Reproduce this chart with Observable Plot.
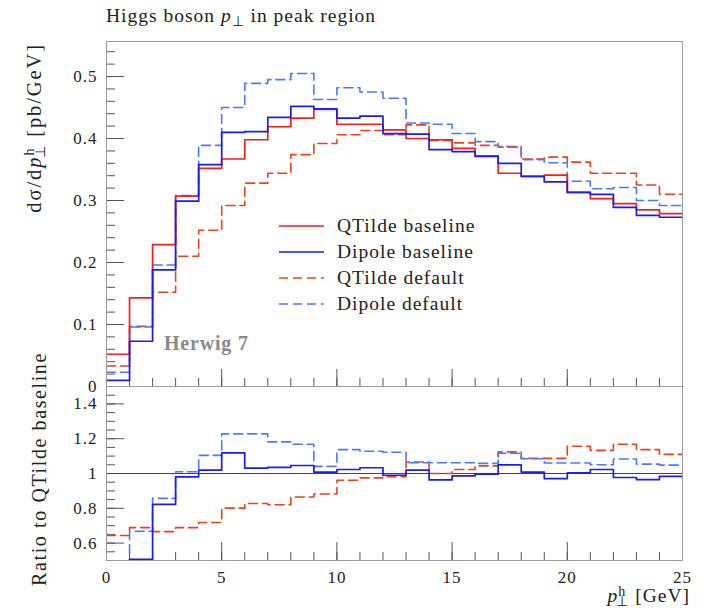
<!DOCTYPE html>
<html><head><meta charset="utf-8">
<script src="https://cdn.jsdelivr.net/npm/d3@7"></script>
<script src="https://cdn.jsdelivr.net/npm/@observablehq/plot@0.6"></script>
<style>
body{margin:0;background:#fff;}
#wrap{position:relative;width:711px;height:613px;}
#wrap > svg{position:absolute;left:0;}
</style></head><body><div id="wrap"></div>
<script>
// ---- data (bin edges in GeV, 1 GeV bins) ----
const binEdges = [0,1,2,3,4,5,6,7,8,9,10,11,12,13,14,15,16,17,18,19,20,21,22,23,24,25];
const qtildeBaseline = [0.052,0.143,0.229,0.307,0.352,0.367,0.398,0.419,0.433,0.447,0.423,0.423,0.414,0.400,0.398,0.384,0.372,0.344,0.339,0.341,0.313,0.303,0.295,0.285,0.279];
const dipoleBaseline = [0.010,0.073,0.188,0.299,0.358,0.410,0.411,0.434,0.452,0.448,0.433,0.436,0.408,0.407,0.382,0.379,0.371,0.360,0.339,0.330,0.313,0.310,0.289,0.276,0.273];
const qtildeDefault  = [0.033,0.097,0.152,0.210,0.252,0.292,0.328,0.344,0.374,0.392,0.406,0.413,0.406,0.422,0.397,0.393,0.389,0.387,0.367,0.370,0.362,0.344,0.344,0.325,0.310];
const dipoleDefault  = [0.023,0.096,0.196,0.308,0.389,0.450,0.489,0.495,0.505,0.463,0.482,0.475,0.465,0.425,0.423,0.408,0.395,0.386,0.366,0.361,0.331,0.319,0.321,0.300,0.292];
// ratios to QTilde baseline
const ratioDipoleBaseline = [0.19,0.507,0.822,0.981,1.019,1.118,1.031,1.035,1.046,1.008,1.023,1.033,0.990,1.019,0.963,0.986,0.996,1.050,1.008,0.971,1.004,1.023,0.977,0.965,0.983];
const ratioQtildeDefault  = [0.644,0.689,0.666,0.689,0.718,0.801,0.828,0.820,0.865,0.882,0.961,0.975,0.981,1.066,1.000,1.023,1.044,1.124,1.087,1.087,1.157,1.133,1.168,1.137,1.110];
const ratioDipoleDefault  = [0.43,0.668,0.857,1.010,1.104,1.228,1.228,1.182,1.168,1.041,1.137,1.128,1.122,1.062,1.062,1.062,1.058,1.116,1.085,1.060,1.060,1.050,1.083,1.054,1.048];
// ticks
const xTickLabels = [0,5,10,15,20,25];
const mainYTickLabels = [0,0.1,0.2,0.3,0.4,0.5];
const ratioYTickLabels = [0.6,0.8,1,1.2,1.4];
const seriesNames = ["QTilde baseline","Dipole baseline","QTilde default","Dipole default"];

const COL = {qb:"#ff1a1a", db:"#1a1aff", qd:"#f04020", dd:"#4a78ff"};
const DASH = "9,5";
const FONT = "'Liberation Serif', serif";
const TICK = "#555";

function steps(vals){ return binEdges.map((e,i)=>({x:e, y: vals[Math.min(i, vals.length-1)]})); }

const W = 711, ML = 106, MR = 29;
const frameW = W - ML - MR;
const minorX = d3.range(0, 25.001, 1);
const majorX = xTickLabels;

// ---- main panel ----
const mainH = 400, mainMT = 41, mainMB = 14, mainFH = mainH - mainMT - mainMB;
const main = Plot.plot({
  width: W, height: mainH, marginLeft: ML, marginRight: MR, marginTop: mainMT, marginBottom: mainMB,
  style: {background: "transparent", fontFamily: FONT, fontSize: "17px", color: "#222", letterSpacing: "1px"},
  x: {domain: [0, 25], axis: null},
  y: {domain: [0, 0.5565], axis: null},
  marks: [
    Plot.tickY(d3.range(0, 0.55, 0.02), {y: d=>d, insetRight: frameW - 9, stroke: TICK}),
    Plot.tickY(mainYTickLabels, {y: d=>d, insetRight: frameW - 18, stroke: TICK}),
    Plot.tickX(minorX, {x: d=>d, insetTop: mainFH - 8, stroke: TICK}),
    Plot.tickX(majorX, {x: d=>d, insetTop: mainFH - 17, stroke: TICK}),
    Plot.axisY(mainYTickLabels, {tickSize: 0, tickPadding: 9, label: null, tickFormat: d => d === 0 ? "0" : d.toFixed(1), fontSize: 17, fill: "#222"}),
    Plot.lineY(steps(qtildeDefault), {x:"x", y:"y", curve:"step-after", stroke: COL.qd, strokeWidth: 1.6, strokeDasharray: DASH}),
    Plot.lineY(steps(dipoleDefault), {x:"x", y:"y", curve:"step-after", stroke: COL.dd, strokeWidth: 1.6, strokeDasharray: DASH}),
    Plot.lineY(steps(qtildeBaseline), {x:"x", y:"y", curve:"step-after", stroke: COL.qb, strokeWidth: 1.7}),
    Plot.lineY(steps(dipoleBaseline), {x:"x", y:"y", curve:"step-after", stroke: COL.db, strokeWidth: 1.7}),
    Plot.frame({stroke: "#9a9a9a"})
  ]
});
main.style.top = "0px";

// ---- ratio panel ----
const rH = 233, rMT = 6, rMB = 53, rFH = rH - rMT - rMB;
const ratio = Plot.plot({
  width: W, height: rH, marginLeft: ML, marginRight: MR, marginTop: rMT, marginBottom: rMB,
  style: {background: "transparent", fontFamily: FONT, fontSize: "17px", color: "#222", letterSpacing: "1px"},
  x: {domain: [0, 25], axis: null},
  y: {domain: [0.5, 1.5], axis: null},
  marks: [
    Plot.tickY(d3.range(0.5, 1.5, 0.05), {y: d=>d, insetRight: frameW - 9, stroke: TICK}),
    Plot.tickY(ratioYTickLabels, {y: d=>d, insetRight: frameW - 18, stroke: TICK}),
    Plot.tickX(minorX, {x: d=>d, insetTop: rFH - 8, stroke: TICK}),
    Plot.tickX(majorX, {x: d=>d, insetTop: rFH - 18, stroke: TICK}),
    Plot.axisY(ratioYTickLabels, {tickSize: 0, tickPadding: 9, label: null, tickFormat: d => String(d), fontSize: 17, fill: "#222"}),
    Plot.axisX(xTickLabels, {tickSize: 0, tickPadding: 10, label: null, tickFormat: d => String(d), fontSize: 17, fill: "#222"}),
    Plot.ruleY([1], {stroke: "#444", strokeWidth: 1}),
    Plot.lineY(steps(ratioQtildeDefault), {x:"x", y:"y", curve:"step-after", stroke: COL.qd, strokeWidth: 1.6, strokeDasharray: DASH, clip: true}),
    Plot.lineY(steps(ratioDipoleDefault), {x:"x", y:"y", curve:"step-after", stroke: COL.dd, strokeWidth: 1.6, strokeDasharray: DASH, clip: true}),
    Plot.lineY(steps(ratioDipoleBaseline), {x:"x", y:"y", curve:"step-after", stroke: COL.db, strokeWidth: 1.7, clip: true}),
    Plot.frame({stroke: "#9a9a9a"})
  ]
});
ratio.style.top = "380px";

const wrap = document.getElementById("wrap");
wrap.appendChild(main);
wrap.appendChild(ratio);

// ---- overlay text: title, axis labels, legend, logo ----
const ov = d3.create("svg").attr("width", W).attr("height", 613)
  .style("position","absolute").style("top","0px").style("left","0px")
  .style("font-family", FONT).style("fill", "#222");

const title = ov.append("text").attr("x", 106).attr("y", 22).attr("font-size", 19.5).attr("letter-spacing", 1);
title.append("tspan").text("Higgs boson ");
title.append("tspan").attr("font-style","italic").text("p");
title.append("tspan").attr("font-size", 14).attr("dy", 4).text("⊥");
title.append("tspan").attr("dy", -4).text(" in peak region");

// main y label
const yl = ov.append("text").attr("transform", "translate(41,43) rotate(-90)").attr("text-anchor","end").attr("font-size", 20.5).attr("letter-spacing", 1.9);
yl.append("tspan").text("dσ/d");
yl.append("tspan").attr("font-style","italic").text("p");
yl.append("tspan").attr("font-size", 14).attr("dy", -7).text("h");
yl.append("tspan").attr("font-size", 14).attr("dx", -11).attr("dy", 11).text("⊥");
yl.append("tspan").attr("dy", -4).text("  [pb/GeV]");

// ratio y label
ov.append("text").attr("transform", "translate(46,469) rotate(-90)").attr("text-anchor","middle").attr("font-size", 20).attr("letter-spacing", 1.6)
  .text("Ratio to QTilde baseline");

// x label
const xl = ov.append("text").attr("x", 690).attr("y", 602).attr("text-anchor","end").attr("font-size", 19.5).attr("letter-spacing", 1);
xl.append("tspan").attr("font-style","italic").text("p");
xl.append("tspan").attr("font-size", 14).attr("dy", -6).text("h");
xl.append("tspan").attr("font-size", 14).attr("dx", -10).attr("dy", 10).text("⊥");
xl.append("tspan").attr("dy", -4).text("    [GeV]");

// legend
const legCols = [COL.qb, COL.db, COL.qd, COL.dd];
const legDash = [null, null, DASH, DASH];
seriesNames.forEach((name, i) => {
  const yy = 226 + i * 26;
  ov.append("line").attr("x1", 279).attr("x2", 324).attr("y1", yy).attr("y2", yy)
    .attr("stroke", legCols[i]).attr("stroke-width", 1.7).attr("stroke-dasharray", legDash[i]);
  ov.append("text").attr("x", 337).attr("y", yy + 6).attr("font-size", 19.5).attr("letter-spacing", 1).text(name);
});

// logo
ov.append("text").attr("x", 164).attr("y", 350).attr("font-size", 20).attr("font-weight", "bold").attr("letter-spacing", 0.8)
  .attr("fill", "#8a8a8a").text("Herwig 7");

wrap.appendChild(ov.node());
</script>
</body></html>
